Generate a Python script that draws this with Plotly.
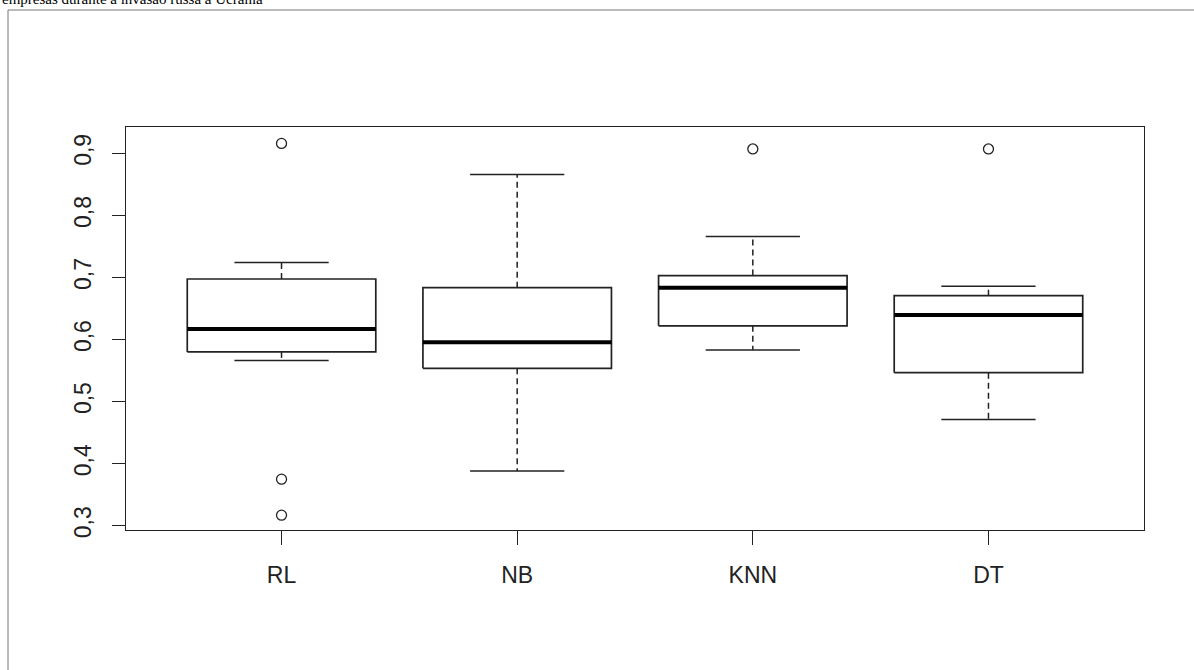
import plotly.graph_objects as go

categories = ["RL", "NB", "KNN", "DT"]
lower_whisker = [0.566, 0.388, 0.583, 0.471]
q1 = [0.580, 0.5536, 0.622, 0.5465]
median = [0.617, 0.5955, 0.6835, 0.6395]
q3 = [0.6975, 0.6835, 0.703, 0.6706]
upper_whisker = [0.724, 0.866, 0.766, 0.6857]
outliers = [[0.916, 0.375, 0.317], [], [0.907], [0.907]]

W, H = 1194, 670
L, R, T, B = 126, 1144, 127, 530
pw, ph = R - L, B - T

def px_x(X):
    return (X - L) / pw

def px_y(Y):
    return (B - Y) / ph

half_box = 0.4
half_cap = 0.2
line_col = "#222222"

fig = go.Figure()
for i, cat in enumerate(categories):
    xc = i + 1
    # box
    fig.add_trace(go.Scatter(
        x=[xc - half_box, xc + half_box, xc + half_box, xc - half_box, xc - half_box],
        y=[q1[i], q1[i], q3[i], q3[i], q1[i]],
        mode="lines", line=dict(color=line_col, width=1.7),
        showlegend=False, hoverinfo="skip"))
    # median
    fig.add_trace(go.Scatter(
        x=[xc - half_box, xc + half_box], y=[median[i], median[i]],
        mode="lines", line=dict(color="black", width=4),
        showlegend=False, hoverinfo="skip"))
    # whiskers (dashed)
    for a, b in ((q3[i], upper_whisker[i]), (q1[i], lower_whisker[i])):
        fig.add_trace(go.Scatter(
            x=[xc, xc], y=[a, b], mode="lines",
            line=dict(color=line_col, width=1.5, dash="6px,4px"),
            showlegend=False, hoverinfo="skip"))
    # caps
    for v in (upper_whisker[i], lower_whisker[i]):
        fig.add_trace(go.Scatter(
            x=[xc - half_cap, xc + half_cap], y=[v, v], mode="lines",
            line=dict(color=line_col, width=1.5),
            showlegend=False, hoverinfo="skip"))
    # outliers
    if outliers[i]:
        fig.add_trace(go.Scatter(
            x=[xc] * len(outliers[i]), y=outliers[i], mode="markers",
            marker=dict(symbol="circle-open", size=10, color=line_col,
                        line=dict(width=1.3, color=line_col)),
            showlegend=False, hoverinfo="skip"))

fig.update_layout(
    width=W, height=H,
    margin=dict(l=L, r=W - R, t=T, b=H - B),
    paper_bgcolor="white", plot_bgcolor="white",
    separators=",.",
    font=dict(family="Liberation Sans, Arial, sans-serif", size=23, color="#222222"),
    xaxis=dict(range=[0.34, 4.66], tickvals=[1, 2, 3, 4], ticktext=categories,
               showgrid=False, zeroline=False, showline=True, mirror=True,
               linecolor="#222222", linewidth=1.3,
               ticks="outside", ticklen=14, tickwidth=1.3, tickcolor="#222222",
               ticklabelstandoff=10),
    yaxis=dict(range=[0.2931, 0.9424], tickvals=[0.3, 0.4, 0.5, 0.6, 0.7, 0.8, 0.9],
               tickformat=".1f", tickangle=-90,
               showgrid=False, zeroline=False, showline=True, mirror=True,
               linecolor="#222222", linewidth=1.3,
               ticks="outside", ticklen=13, tickwidth=1.3, tickcolor="#222222",
               ticklabelstandoff=12),
    shapes=[dict(type="rect", xref="paper", yref="paper",
                 x0=px_x(8), x1=px_x(1210), y0=px_y(10), y1=px_y(690),
                 line=dict(color="#777777", width=1), fillcolor="rgba(0,0,0,0)",
                 layer="below")],
    annotations=[dict(text="empresas durante a invasão russa à Ucrânia",
                      xref="paper", yref="paper", x=px_x(0), y=px_y(-1),
                      xanchor="left", yanchor="middle", showarrow=False,
                      font=dict(family="Liberation Serif, Times New Roman, serif",
                                size=15, color="black"))],
)

fig.write_html("out.html",
               config={"displayModeBar": False},
               post_script="document.body.style.margin='0';document.body.style.overflow='hidden';")
